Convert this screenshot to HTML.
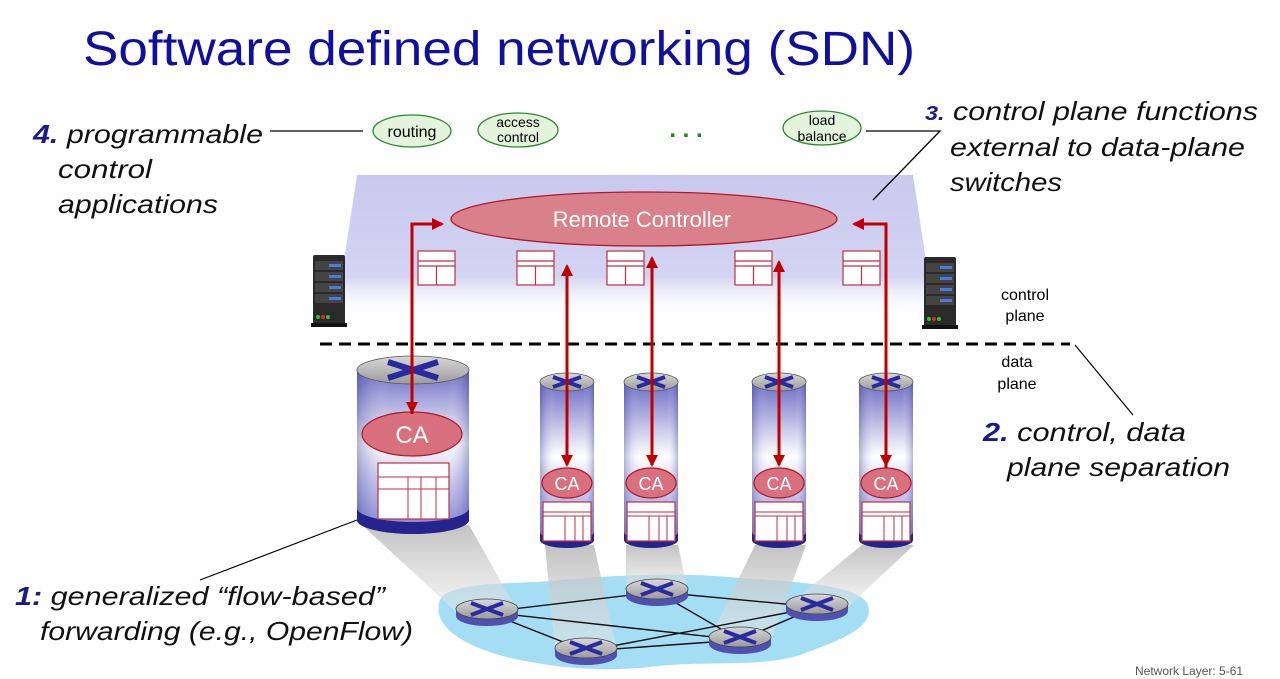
<!DOCTYPE html>
<html><head><meta charset="utf-8"><style>
html,body{margin:0;padding:0;background:#fff;}
svg{display:block;}
text{font-family:"Liberation Sans",sans-serif;}
.it{font-style:italic;font-size:26px;fill:#111;}
.bl{fill:#1a1a8c;font-weight:bold;}
</style></head><body>
<svg width="1280" height="679" viewBox="0 0 1280 679" xmlns="http://www.w3.org/2000/svg">
<defs>
<linearGradient id="plane" x1="0" y1="0" x2="0" y2="1">
<stop offset="0" stop-color="#c9c9ef"/><stop offset="0.7" stop-color="#d3d3f2"/><stop offset="1" stop-color="#ffffff" stop-opacity="0"/>
</linearGradient>
<linearGradient id="cyl" x1="0" y1="0" x2="0" y2="1">
<stop offset="0" stop-color="#6c6cc6"/><stop offset="0.45" stop-color="#ffffff"/><stop offset="0.7" stop-color="#c0c0ec"/><stop offset="1" stop-color="#7a7ad0"/>
</linearGradient>
<linearGradient id="cylh" x1="0" y1="0" x2="1" y2="0">
<stop offset="0" stop-color="#303090" stop-opacity="0.35"/><stop offset="0.3" stop-color="#fff" stop-opacity="0"/><stop offset="0.8" stop-color="#fff" stop-opacity="0"/><stop offset="1" stop-color="#303090" stop-opacity="0.35"/>
</linearGradient>
<linearGradient id="beam" x1="0" y1="0" x2="0" y2="1">
<stop offset="0" stop-color="#b8b8b8"/><stop offset="1" stop-color="#e8e8e8" stop-opacity="0.6"/>
</linearGradient>
<linearGradient id="rtop" x1="0" y1="0" x2="0" y2="1">
<stop offset="0" stop-color="#d8d8d8"/><stop offset="1" stop-color="#9a9a9a"/>
</linearGradient>
<g id="rt">
<path d="M-31,0 v7 a31,10 0 0 0 62,0 v-7 z" fill="#5050b0"/>
<ellipse cx="0" cy="0" rx="31" ry="10" fill="url(#rtop)" stroke="#444" stroke-width="0.8"/>
<path d="M-16,-6 L16,6 M-16,6 L16,-6" stroke="#2a2aa0" stroke-width="4"/>
</g>
<g id="tb">
<rect x="0" y="0" width="37" height="34" fill="#fff" stroke="#c03040" stroke-width="1.2"/>
<path d="M0,10 H37 M0,15 H37 M18.5,15 V34" stroke="#c03040" stroke-width="1.2"/>
</g>
<g id="stb">
<rect x="0" y="0" width="48" height="39" fill="#fff" stroke="#c03040" stroke-width="1.2"/>
<path d="M0,10 H48 M0,14 H48 M22,14 V39 M32,14 V39 M40,14 V39" stroke="#c03040" stroke-width="1"/>
</g>
<g id="srv">
<rect x="0" y="0" width="32" height="70" rx="2" fill="#2a2a2a"/>
<rect x="2" y="6" width="28" height="9" fill="#444"/><rect x="2" y="17" width="28" height="9" fill="#444"/><rect x="2" y="28" width="28" height="9" fill="#444"/><rect x="2" y="39" width="28" height="9" fill="#444"/>
<rect x="16" y="9" width="12" height="3" fill="#4a7ae0"/><rect x="16" y="20" width="12" height="3" fill="#4a7ae0"/><rect x="16" y="31" width="12" height="3" fill="#4a7ae0"/><rect x="16" y="42" width="12" height="3" fill="#4a7ae0"/>
<circle cx="5" cy="62" r="2" fill="#2c2"/><circle cx="10" cy="62" r="2" fill="#e22"/><circle cx="15" cy="62" r="2" fill="#2c2"/>
<rect x="-2" y="68" width="36" height="4" fill="#111"/>
</g>
<marker id="ah2" markerWidth="12" markerHeight="12" refX="10" refY="6" orient="auto-start-reverse" markerUnits="userSpaceOnUse"><path d="M0,0 L12,6 L0,12 z" fill="#c00000"/></marker>
</defs>

<text x="83" y="65" font-size="48" fill="#1010a0" textLength="832" lengthAdjust="spacingAndGlyphs">Software defined networking (SDN)</text>

<polygon points="357,175 913,175 935,320 335,320" fill="url(#plane)"/>

<use href="#srv" x="313" y="255"/>
<use href="#srv" x="924" y="257"/>

<line x1="270" y1="131" x2="363" y2="131" stroke="#000" stroke-width="1.3"/>
<ellipse cx="412" cy="131" rx="39" ry="16" fill="#e4f4dc" stroke="#2a8a2a" stroke-width="1.3"/>
<text x="412" y="137" font-size="16" text-anchor="middle">routing</text>
<ellipse cx="518" cy="130" rx="40" ry="17" fill="#e4f4dc" stroke="#2a8a2a" stroke-width="1.3"/>
<text x="518" y="127" font-size="14" text-anchor="middle">access</text>
<text x="518" y="142" font-size="14" text-anchor="middle">control</text>
<text x="686" y="137" font-size="24" fill="#1a8a1a" text-anchor="middle" font-weight="bold">. . .</text>
<ellipse cx="822" cy="128" rx="39" ry="17" fill="#e4f4dc" stroke="#2a8a2a" stroke-width="1.3"/>
<text x="822" y="125" font-size="14" text-anchor="middle">load</text>
<text x="822" y="141" font-size="14" text-anchor="middle">balance</text>
<polyline points="866,131 940,131 873,200" fill="none" stroke="#000" stroke-width="1.3"/>

<ellipse cx="644" cy="219" rx="193" ry="27" fill="#d9808a" stroke="#b01828" stroke-width="1.3"/>
<text x="642" y="227" font-size="22" fill="#fff" text-anchor="middle">Remote Controller</text>

<use href="#tb" x="418" y="251"/>
<use href="#tb" x="517" y="251"/>
<use href="#tb" x="607" y="251"/>
<use href="#tb" x="735" y="251"/>
<use href="#tb" x="843" y="251"/>

<text x="1025" y="300" font-size="16" text-anchor="middle">control</text>
<text x="1025" y="321" font-size="16" text-anchor="middle">plane</text>
<line x1="320" y1="344" x2="1070" y2="344" stroke="#000" stroke-width="3" stroke-dasharray="12,7"/>
<text x="1017" y="367" font-size="16" text-anchor="middle">data</text>
<text x="1017" y="389" font-size="16" text-anchor="middle">plane</text>
<line x1="1075" y1="345" x2="1133" y2="415" stroke="#000" stroke-width="1.2"/>

<path d="M440,600 C450,580 520,585 560,580 C620,575 680,572 740,578 C800,582 860,585 868,605 C875,628 840,640 800,655 C760,668 700,660 650,667 C600,672 560,668 520,660 C470,650 430,628 440,600 z" fill="#a4def5"/>

<polygon points="362,525 469,525 518,612 456,612" fill="url(#beam)" opacity="0.85"/>
<polygon points="545,545 594,545 617,651 555,651" fill="url(#beam)" opacity="0.85"/>
<polygon points="626,545 678,545 688,592 626,592" fill="url(#beam)" opacity="0.85"/>
<polygon points="755,545 806,545 771,640 709,640" fill="url(#beam)" opacity="0.85"/>
<polygon points="862,545 914,545 848,607 786,607" fill="url(#beam)" opacity="0.85"/>

<g stroke="#111" stroke-width="1.4">
<line x1="487" y1="612" x2="657" y2="592"/><line x1="487" y1="612" x2="740" y2="640"/><line x1="487" y1="612" x2="586" y2="651"/>
<line x1="657" y1="592" x2="817" y2="607"/><line x1="657" y1="592" x2="740" y2="640"/>
<line x1="586" y1="651" x2="740" y2="640"/><line x1="586" y1="651" x2="817" y2="607"/><line x1="740" y1="640" x2="817" y2="607"/>
</g>
<use href="#rt" x="487" y="609"/>
<use href="#rt" x="657" y="589"/>
<use href="#rt" x="817" y="604"/>
<use href="#rt" x="740" y="637"/>
<use href="#rt" x="586" y="648"/>

<path d="M357,370 V520 A56,14 0 0 0 469,520 V370 z" fill="url(#cyl)"/>
<path d="M357,370 V520 A56,14 0 0 0 469,520 V370 z" fill="url(#cylh)"/>
<path d="M357,508 V520 A56,14 0 0 0 469,520 V508 A56,14 0 0 1 357,508 z" fill="#24248c"/>
<ellipse cx="413" cy="370" rx="56" ry="14" fill="url(#rtop)" stroke="#555" stroke-width="0.8"/>
<path d="M388,362 L438,378 M388,378 L438,362" stroke="#2a2aa0" stroke-width="6"/>
<ellipse cx="412" cy="434" rx="50" ry="22" fill="#d9707e" stroke="#b01828" stroke-width="1.2"/>
<text x="412" y="443" font-size="24" fill="#fff" text-anchor="middle">CA</text>
<rect x="378" y="463" width="71" height="56" fill="#fff" stroke="#c03040" stroke-width="1.2"/>
<path d="M378,477 H449 M378,489 H449 M408,477 V519 M421,477 V519 M436,477 V519" stroke="#c03040" stroke-width="1"/>

<g id="c1">
<path d="M540,382 V540 A27,8 0 0 0 594,540 V382 z" fill="url(#cyl)"/>
<path d="M540,382 V540 A27,8 0 0 0 594,540 V382 z" fill="url(#cylh)"/>
<path d="M540,532 V540 A27,8 0 0 0 594,540 V532 A27,8 0 0 1 540,532 z" fill="#24248c"/>
<ellipse cx="567" cy="382" rx="27" ry="9" fill="url(#rtop)" stroke="#555" stroke-width="0.8"/>
<path d="M553,377 L581,387 M553,387 L581,377" stroke="#2a2aa0" stroke-width="4"/>
<ellipse cx="567" cy="483" rx="25" ry="15" fill="#d9707e" stroke="#b01828" stroke-width="1.2"/>
<text x="567" y="490" font-size="18" fill="#fff" text-anchor="middle">CA</text>
<use href="#stb" x="543" y="502"/>
</g>
<use href="#c1" x="84" y="0"/>
<use href="#c1" x="212" y="0"/>
<use href="#c1" x="319" y="0"/>

<g stroke="#c00000" stroke-width="3" fill="none">
<polyline points="412,414 412,224 442,224" marker-end="url(#ah2)"/>
<line x1="412" y1="300" x2="412" y2="412" marker-end="url(#ah2)"/>
<polyline points="886,468 886,224 854,224" marker-end="url(#ah2)"/>
<line x1="567" y1="266" x2="567" y2="465" marker-start="url(#ah2)" marker-end="url(#ah2)"/>
<line x1="652" y1="258" x2="652" y2="465" marker-start="url(#ah2)" marker-end="url(#ah2)"/>
<line x1="779" y1="262" x2="779" y2="465" marker-start="url(#ah2)" marker-end="url(#ah2)"/>
<line x1="886" y1="300" x2="886" y2="465" marker-end="url(#ah2)"/>
</g>

<text class="it" x="33" y="143" textLength="230" lengthAdjust="spacingAndGlyphs"><tspan class="bl">4.</tspan> programmable</text>
<text class="it" x="58" y="178" textLength="94" lengthAdjust="spacingAndGlyphs">control</text>
<text class="it" x="58" y="213" textLength="160" lengthAdjust="spacingAndGlyphs">applications</text>

<text class="it" x="925" y="120" textLength="333" lengthAdjust="spacingAndGlyphs"><tspan class="bl" font-size="20">3.</tspan> control plane functions</text>
<text class="it" x="950" y="156" textLength="295" lengthAdjust="spacingAndGlyphs">external to data-plane</text>
<text class="it" x="950" y="191" textLength="112" lengthAdjust="spacingAndGlyphs">switches</text>

<text class="it" x="983" y="441" textLength="203" lengthAdjust="spacingAndGlyphs"><tspan class="bl">2.</tspan> control, data</text>
<text class="it" x="1007" y="476" textLength="223" lengthAdjust="spacingAndGlyphs">plane separation</text>

<line x1="200" y1="580" x2="357" y2="520" stroke="#000" stroke-width="1.2"/>
<text class="it" x="15" y="605" textLength="370" lengthAdjust="spacingAndGlyphs"><tspan class="bl">1:</tspan> generalized “flow-based”</text>
<text class="it" x="40" y="640" textLength="373" lengthAdjust="spacingAndGlyphs">forwarding (e.g., OpenFlow)</text>

<text x="1135" y="675" font-size="12" fill="#555">Network Layer: 5-61</text>
</svg>
</body></html>
